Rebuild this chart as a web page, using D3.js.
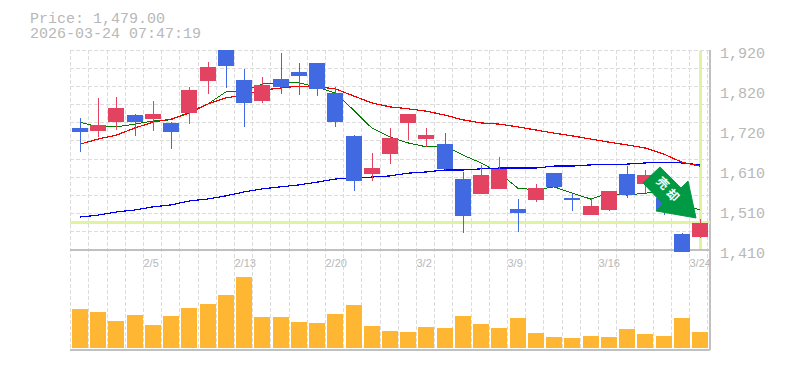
<!DOCTYPE html>
<html>
<head>
<meta charset="utf-8">
<script src="https://cdnjs.cloudflare.com/ajax/libs/d3/7.8.5/d3.min.js"></script>
<style>
html,body{margin:0;padding:0;background:#fff;overflow:hidden}
svg{display:block}
text{font-family:"Liberation Mono",monospace;fill:#b8b8b8}
</style>
</head>
<body>
<svg id="c" width="785" height="370"></svg>
<script>
const dates=["1/30","2/2","2/3","2/4","2/5","2/6","2/9","2/10","2/12","2/13","2/16","2/17","2/18","2/19","2/20","2/24","2/25","2/26","2/27","3/2","3/3","3/4","3/5","3/6","3/9","3/10","3/11","3/12","3/13","3/16","3/17","3/18","3/19","3/23","3/24"];
const open =[1721,1714,1736,1754,1744,1734,1759,1841,1920,1844,1790,1846,1864,1887,1810,1701,1604,1655,1734,1693,1680,1591,1553,1566,1515,1538,1606,1543,1499,1512,1604,1578,1543,1451,1443];
const close=[1711,1729,1772,1736,1757,1711,1818,1877,1879,1785,1831,1826,1854,1821,1736,1586,1619,1696,1757,1703,1617,1497,1601,1617,1504,1568,1571,1538,1522,1560,1550,1601,1512,1405,1479];
const high =[1747,1798,1800,1757,1790,1736,1826,1889,1920,1872,1851,1912,1887,1887,1826,1703,1657,1721,1757,1721,1708,1609,1627,1647,1540,1578,1606,1553,1543,1560,1624,1614,1563,1453,1489];
const low  =[1660,1698,1716,1701,1713,1668,1731,1808,1823,1724,1785,1808,1805,1803,1724,1560,1586,1629,1691,1673,1614,1453,1553,1566,1456,1532,1571,1509,1499,1509,1543,1555,1499,1405,1441];
const maShort=[1736,1724,1724,1731,1739,1742,1762,1782,1813,1815,1833,1838,1836,1826,1810,1767,1721,1698,1683,1673,1675,1652,1632,1606,1568,1563,1571,1555,1540,1555,1550,1555,1558,1527,1512];
const maMid  =[1680,1693,1703,1721,1736,1744,1759,1782,1798,1805,1818,1823,1828,1826,1821,1803,1785,1775,1770,1764,1754,1742,1734,1731,1724,1716,1708,1701,1693,1685,1678,1670,1655,1634,1624];
const maLong =[1494,1499,1507,1512,1520,1525,1535,1540,1548,1558,1566,1571,1576,1583,1591,1594,1596,1599,1606,1609,1614,1614,1617,1619,1619,1619,1624,1624,1627,1629,1629,1632,1634,1632,1627];
const volume =[39,36,27,33,23,32,40,44,53,71,31,31,26,25,34,43,22,17,16,21,20,32,24,20,30,15,11,10,12,11,19,14,12,30,16];
const priceTicks=["1,920","1,820","1,720","1,610","1,510","1,410"];
const dateTicks=["2/5","2/13","2/20","3/2","3/9","3/16","3/24"];
const lastPrice=1479;
const titleLines=["Price: 1,479.00","2026-03-24 07:47:19"];
const arrowText=["売","却"];

const svg=d3.select("#c");
const x=d3.scalePoint().domain(dates).range([80,700]);
const gridX=d3.scaleBand().domain(dates).range([70.7,707.7]);
const y=d3.scaleLinear().domain([1410,1920]).range([250,50]);
const yLabel=d3.scalePoint().domain(priceTicks).range([50,250]);
const yVol=d3.scaleLinear().domain([0,100]).range([348,248]);
const gridY=d3.range(12).map(i=>50+i*200/11);
const GRID="#dcdcdc",AX="#c0c0c0",REF="#e0f4a0",RED="#e34260",BLUE="#4169e1",VOL="#ffb733";

// grid
const g=svg.append("g").attr("stroke",GRID).attr("stroke-dasharray","4,2").attr("shape-rendering","crispEdges");
g.selectAll(".v").data(dates.concat(["end"])).join("line")
 .attr("x1",d=>d==="end"?707.7:gridX(d)).attr("x2",d=>d==="end"?707.7:gridX(d)).attr("y1",50).attr("y2",350);
g.selectAll(".h").data(gridY).join("line")
 .attr("x1",70).attr("x2",710).attr("y1",d=>d).attr("y2",d=>d);

// axes
svg.append("g").attr("stroke",AX).attr("stroke-width",1.5).attr("shape-rendering","crispEdges")
 .selectAll("line").data([[70,250,710,250],[70,350,710,350],[710,50,710,350]]).join("line")
 .attr("x1",d=>d[0]).attr("y1",d=>d[1]).attr("x2",d=>d[2]).attr("y2",d=>d[3]);

// reference lines at latest price / date
svg.append("line").attr("shape-rendering","crispEdges").attr("x1",70).attr("x2",710).attr("y1",y(lastPrice)).attr("y2",y(lastPrice)).attr("stroke",REF).attr("stroke-width",3);
svg.append("line").attr("shape-rendering","crispEdges").attr("x1",x(dates[34])+.5).attr("x2",x(dates[34])+.5).attr("y1",51).attr("y2",249).attr("stroke",REF).attr("stroke-width",3);

// moving averages
const line=d3.line().x((d,i)=>x(dates[i])).y(d=>y(d));
[[maShort,"#007a00",1],[maLong,"#0000f0",1.2],[maMid,"#f00000",1.2]].forEach(([s,c,w])=>{
  svg.append("path").attr("d",line(s)).attr("fill","none").attr("stroke",c).attr("stroke-width",w).attr("shape-rendering","crispEdges");
});

// candles
const col=i=>close[i]>=open[i]?RED:BLUE;
const cg=svg.append("g").attr("shape-rendering","crispEdges");
cg.selectAll(".w").data(dates).join("line")
 .attr("x1",d=>x(d)+.5).attr("x2",d=>x(d)+.5)
 .attr("y1",(d,i)=>y(high[i])).attr("y2",(d,i)=>y(low[i]))
 .attr("stroke",(d,i)=>col(i)).attr("stroke-width",1);
cg.selectAll(".b").data(dates).join("rect")
 .attr("x",d=>x(d)-8).attr("width",16)
 .attr("y",(d,i)=>y(Math.max(open[i],close[i])))
 .attr("height",(d,i)=>Math.abs(y(open[i])-y(close[i])))
 .attr("fill",(d,i)=>col(i));

// volume
svg.append("g").selectAll("rect").data(dates).join("rect")
 .attr("shape-rendering","crispEdges")
 .attr("x",d=>x(d)-8).attr("width",16)
 .attr("y",(d,i)=>yVol(volume[i])).attr("height",(d,i)=>yVol(0)-yVol(volume[i]))
 .attr("fill",VOL);

// arrow marker anchored to the latest candle
const ag=svg.append("g").attr("transform",`translate(${x(dates[34])-4},${y(lastPrice)-5})`);
ag.append("path").attr("d","M-36,-51L-15,-30L-8,-37L0,0L-40,-7L-33,-14L-53,-35Z")
 .attr("fill","#009a44").attr("stroke","#009a44").attr("stroke-width",1).attr("stroke-linejoin","round");
ag.selectAll("text").data(arrowText).join("text")
 .attr("transform",(d,i)=>`translate(${-33+i*10},${-35+i*12}) rotate(45)`)
 .attr("text-anchor","middle").attr("dy","0.38em")
 .style("font-family",'"Noto Sans CJK JP"').style("font-weight",700).style("font-size","12px").style("fill","#fff")
 .text(d=>d);

// y labels
const yAxis=d3.axisRight(yLabel).tickSize(0).tickPadding(0).offset(0);
const ya=svg.append("g").attr("transform","translate(720,0)").call(yAxis);
ya.select(".domain").remove();
ya.selectAll("text").attr("x",0).attr("dy",8).style("font-size","15px").style("font-family",'"Liberation Mono"').style("fill","#b8b8b8").attr("font-weight",400);

// x labels
svg.append("g").selectAll("text").data(dateTicks).join("text")
 .attr("x",d=>gridX(d)).attr("y",267).style("font-size","11px").style("font-family",'"Liberation Sans"').text(d=>d);

// title
svg.append("g").selectAll("text").data(titleLines).join("text")
 .attr("x",30).attr("y",(d,i)=>23+i*15).style("font-size","15px").text(d=>d);
</script>
</body>
</html>
